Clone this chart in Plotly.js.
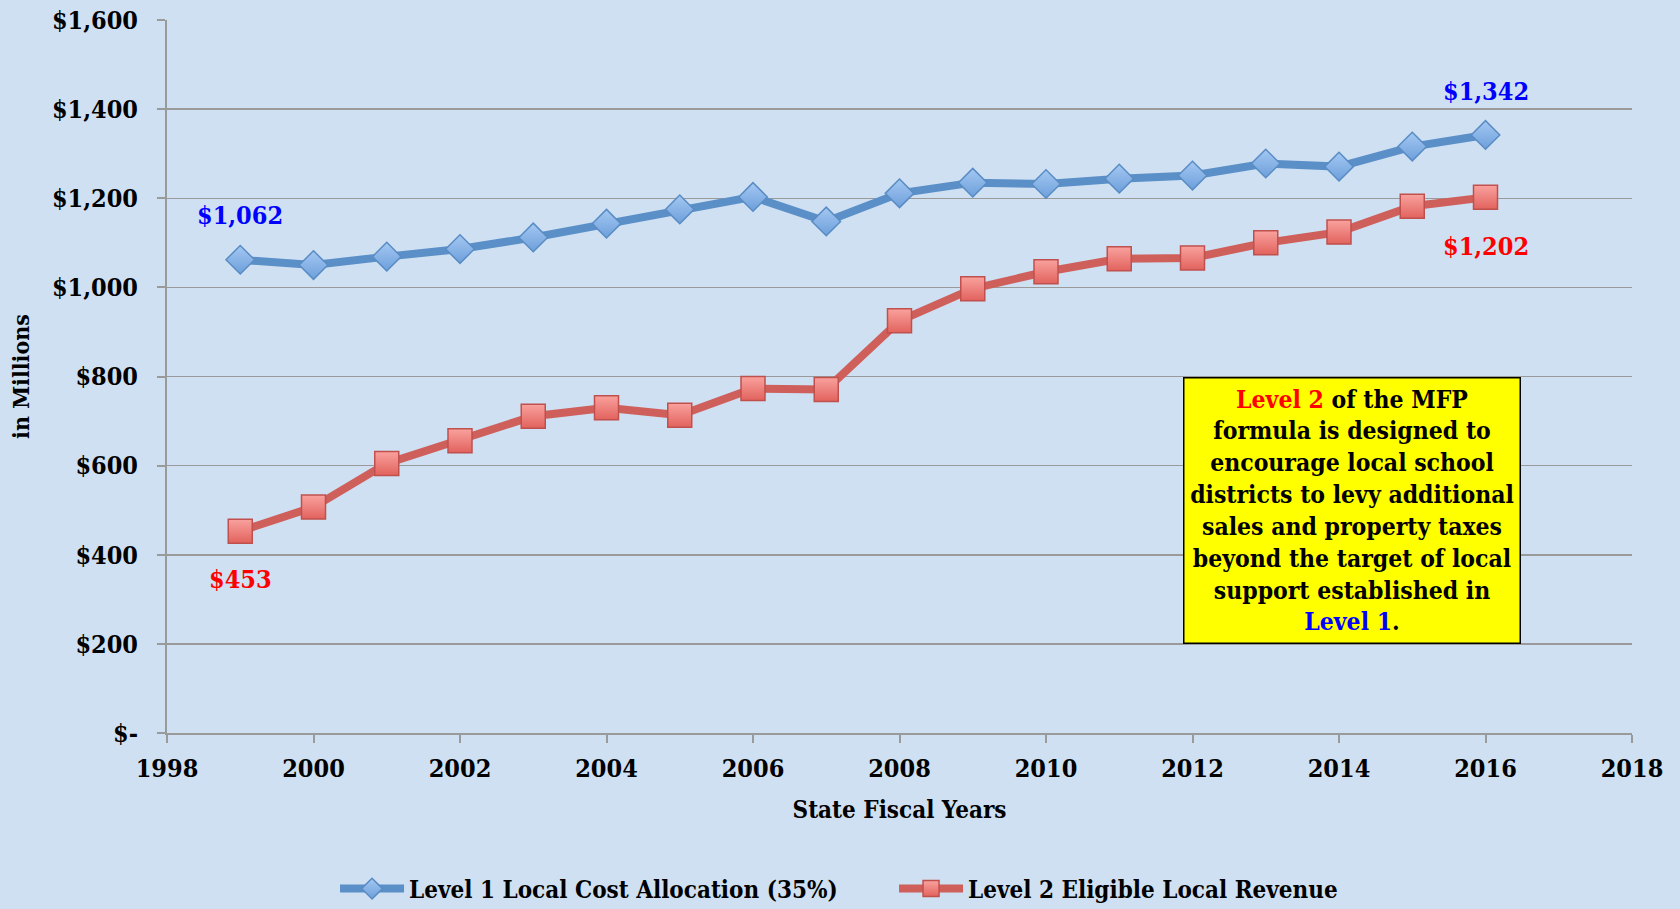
<!DOCTYPE html>
<html>
<head>
<meta charset="utf-8">
<script src="https://cdn.plot.ly/plotly-3.0.1.min.js"></script>
<style>
  html, body { margin: 0; padding: 0; background: #cfe0f2; }
  #plot { width: 1680px; height: 909px; }
</style>
</head>
<body>
<div id="plot"></div>
<script>
// State fiscal years
const years = [1999, 2000, 2001, 2002, 2003, 2004, 2005, 2006, 2007, 2008,
               2009, 2010, 2011, 2012, 2013, 2014, 2015, 2016];

// Level 1 local cost allocation (35%), $ millions
const level1 = [1062, 1050, 1069, 1086, 1112, 1143, 1175, 1203, 1148, 1211,
                1235, 1232, 1244, 1251, 1278, 1271, 1316, 1342];

// Level 2 eligible local revenue, $ millions
const level2 = [453, 507, 605, 656, 711, 730, 713, 773, 771, 925,
                997, 1035, 1064, 1066, 1100, 1124, 1182, 1202];

const yTickVals = [0, 200, 400, 600, 800, 1000, 1200, 1400, 1600];
const yTickText = ['$-', '$200', '$400', '$600', '$800', '$1,000', '$1,200', '$1,400', '$1,600'];

const FONT = '"DejaVu Serif Condensed", "Liberation Serif", serif';

function money(v) {
    return '$' + v.toLocaleString('en-US');
}

let lineA = {
    x: years,
    y: level1,
    mode: 'lines+markers',
    name: 'Level 1 Local Cost Allocation (35%)',
    line: { color: '#5b8fc7', width: 8 },
    marker: {
        symbol: 'diamond',
        size: 22,
        color: '#a4c8f2',
        gradient: { type: 'vertical', color: '#6d9fdb' },
        line: { color: '#5a8cc4', width: 1.5 }
    }
};

let lineB = {
    x: years,
    y: level2,
    mode: 'lines+markers',
    name: 'Level 2 Eligible Local Revenue',
    line: { color: '#cf5f5a', width: 8 },
    marker: {
        symbol: 'square',
        size: 24,
        color: '#f9a29e',
        gradient: { type: 'vertical', color: '#e2625d' },
        line: { color: '#c0504d', width: 1.5 }
    }
};

let n = years.length - 1;
let labelFont = { family: FONT, size: 25, color: '#0000ff', weight: 'bold' };
let redFont = Object.assign({}, labelFont, { color: '#ff0000' });

const annotations = [
    { x: years[0], y: level1[0], text: money(level1[0]), yshift: 44, font: labelFont },
    { x: years[n], y: level1[n], text: money(level1[n]), yshift: 43, font: labelFont },
    { x: years[0], y: level2[0], text: money(level2[0]), yshift: -48, font: redFont },
    { x: years[n], y: level2[n], text: money(level2[n]), yshift: -49, font: redFont }
].map(a => Object.assign({ xref: 'x', yref: 'y', showarrow: false }, a));

annotations.push({
    xref: 'paper', yref: 'paper',
    x: 0.809, y: 0.312,
    xanchor: 'center', yanchor: 'middle',
    showarrow: false,
    align: 'center',
    width: 333, height: 262,
    bgcolor: '#ffff00',
    bordercolor: '#000000',
    borderwidth: 1.5,
    font: { family: FONT, size: 24.5, color: '#000000', weight: 'bold' },
    text: '<span style="color:#ff0000">Level 2</span> of the MFP<br>' +
          'formula is designed to<br>' +
          'encourage local school<br>' +
          'districts to levy additional<br>' +
          'sales and property taxes<br>' +
          'beyond the target of local<br>' +
          'support established in<br>' +
          '<span style="color:#0000ff">Level 1</span>.'
});

const layout = {
    width: 1680,
    height: 909,
    paper_bgcolor: '#cfe0f2',
    plot_bgcolor: '#cfe0f2',
    margin: { l: 167, r: 48, t: 20, b: 176 },
    font: { family: FONT, size: 24, color: '#000000', weight: 'bold' },
    showlegend: true,
    legend: {
        orientation: 'h',
        xref: 'paper',
        x: 0.1147,
        xanchor: 'left',
        yref: 'container',
        y: 0.022,
        yanchor: 'middle',
        itemwidth: 64,
        entrywidth: 480,
        font: { family: FONT, size: 24, weight: 'bold' },
        bgcolor: 'rgba(0,0,0,0)'
    },
    xaxis: {
        range: [1998, 2018],
        dtick: 2,
        tick0: 1998,
        tickangle: 0,
        showgrid: false,
        zeroline: false,
        showline: true,
        linecolor: '#9a9a9a',
        linewidth: 2,
        ticks: 'outside',
        ticklen: 8,
        tickcolor: '#9a9a9a',
        tickwidth: 2,
        ticklabelstandoff: 4,
        tickfont: { family: FONT, size: 25, weight: 'bold' },
        title: { text: 'State Fiscal Years', font: { family: FONT, size: 24, weight: 'bold' }, standoff: 19 }
    },
    yaxis: {
        range: [0, 1600],
        tickvals: yTickVals,
        ticktext: yTickText,
        showgrid: true,
        gridcolor: '#9a9a9a',
        gridwidth: 1.5,
        zeroline: false,
        showline: true,
        linecolor: '#9a9a9a',
        linewidth: 2,
        ticks: 'outside',
        ticklen: 8,
        tickcolor: '#9a9a9a',
        tickwidth: 2,
        ticklabelstandoff: 14,
        tickfont: { family: FONT, size: 25, weight: 'bold' },
        title: { text: 'in Millions', font: { family: FONT, size: 23, weight: 'bold' }, standoff: 16 }
    },
    annotations: annotations
};

const config = {
    displayModeBar: false,
    staticPlot: true
};

Plotly.newPlot('plot', [lineA, lineB], layout, config);
</script>
</body>
</html>
